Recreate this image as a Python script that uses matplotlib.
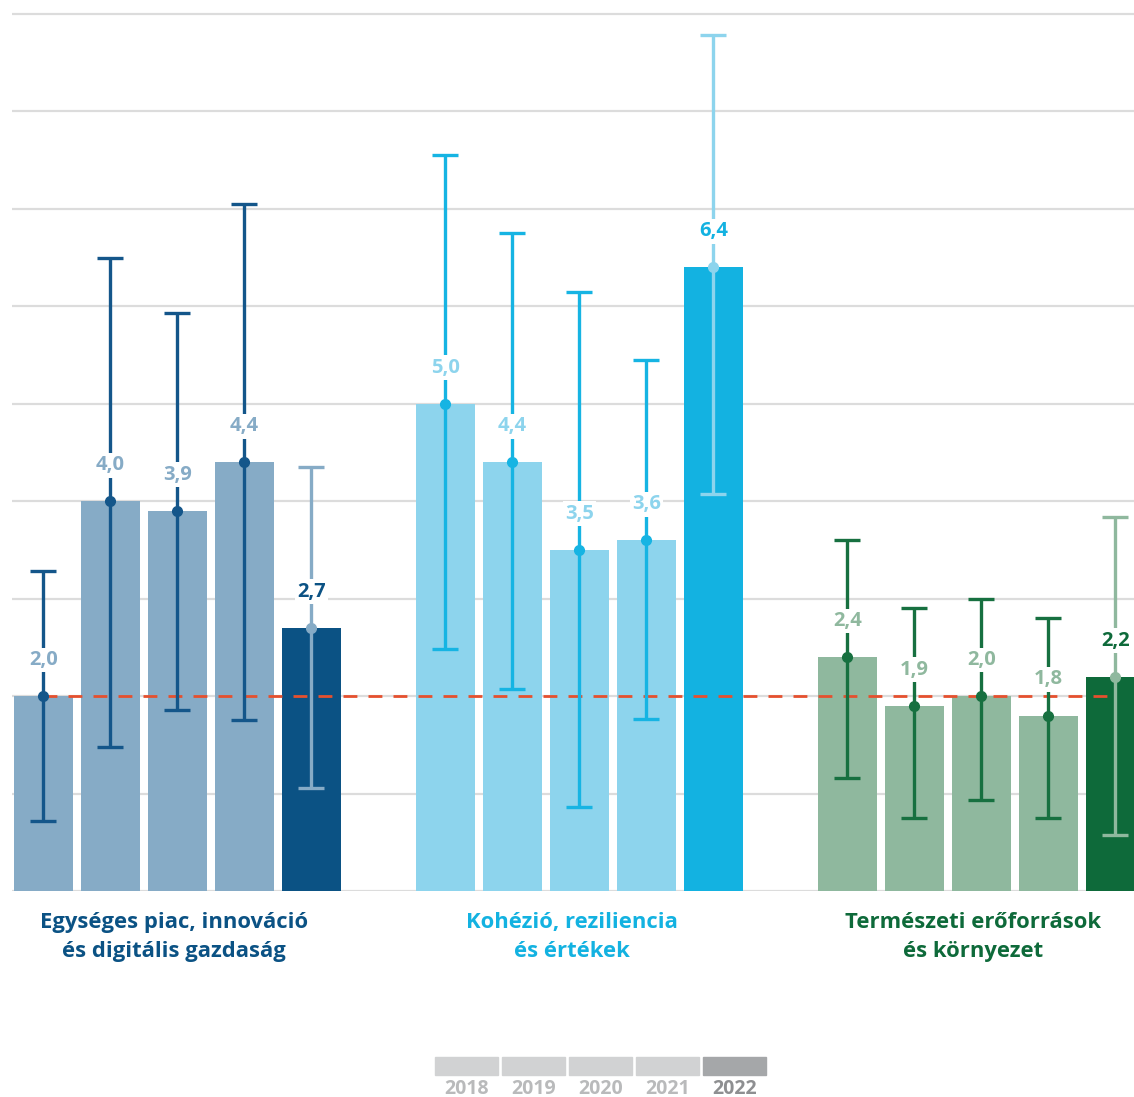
import matplotlib
matplotlib.use("Agg")
import matplotlib.pyplot as plt
from matplotlib.patches import Rectangle
import numpy as np

plt.rcParams['font.family'] = ['Open Sans', 'DejaVu Sans']

years = ["2018", "2019", "2020", "2021", "2022"]
groups = ["Egységes piac, innováció\nés digitális gazdaság",
          "Kohézió, reziliencia\nés értékek",
          "Természeti erőforrások\nés környezet"]

values = [[2.0, 4.0, 3.9, 4.4, 2.7],
          [5.0, 4.4, 3.5, 3.6, 6.4],
          [2.4, 1.9, 2.0, 1.8, 2.2]]
upper = [[3.28, 6.50, 5.93, 7.05, 4.35],
         [7.55, 6.75, 6.15, 5.45, 8.78],
         [3.60, 2.90, 3.00, 2.80, 3.84]]
lower = [[0.72, 1.48, 1.86, 1.75, 1.06],
         [2.48, 2.07, 0.86, 1.77, 4.07],
         [1.16, 0.75, 0.93, 0.75, 0.57]]
reference = 2.0

light = ["#86abc6", "#8dd4ed", "#8fb89e"]
dark = ["#0b5284", "#13b2e1", "#0e6a3a"]
errc = ["#14568a", "#16b4e3", "#177040"]

fig = plt.figure(figsize=(11.34, 10.97), dpi=100)
W, H = 1134, 1097
ax = fig.add_axes([12 / W, (H - 891) / H, (1134 - 12) / W, (891 - 5) / H])
step = 67.0
x0 = -0.47
x1 = x0 + (1134 - 12) / step
ax.set_xlim(x0, x1)
ax.set_ylim(0, 9 + 9 / 876 * 9)

for g in range(10):
    ax.axhline(g, color="#dcdcdc", lw=1.6, zorder=0)

for gi in range(3):
    for i in range(5):
        pos = gi * 6 + i
        is_last = i == 4
        ax.bar(pos, values[gi][i], width=0.88,
               color=dark[gi] if is_last else light[gi], zorder=2)
        ecol = light[gi] if is_last else errc[gi]
        v = values[gi][i]
        ax.errorbar(pos, v, yerr=[[v - lower[gi][i]], [upper[gi][i] - v]],
                    fmt='o', color=ecol, ms=7, elinewidth=2.4, capsize=9.5,
                    capthick=2.4, zorder=4)
        ax.annotate(f"{v:.1f}".replace(".", ","), (pos, v),
                    xytext=(0, 26), textcoords="offset points",
                    ha="center", va="center", fontsize=14.5, fontweight="bold",
                    color=dark[gi] if is_last else light[gi],
                    bbox=dict(boxstyle="square,pad=0.12", fc="white", ec="none"),
                    zorder=5)

ax.plot([0, 16], [reference, reference], color="#e5502e", lw=2,
        dashes=(5, 4), zorder=3)

for s in ax.spines.values():
    s.set_visible(False)
ax.set_xticks([])
ax.set_yticks([])

centers_px = [174, 572, 973]
for gi in range(3):
    fig.text(centers_px[gi] / W, 1 - 937 / H, groups[gi], ha="center", va="center",
             fontsize=15.8, fontweight="bold", color=dark[gi],
             linespacing=1.45)

leg_left = [435, 502, 569, 636, 703]
for i, y in enumerate(years):
    col = "#a5a7a9" if i == 4 else "#d1d2d3"
    fig.patches.append(Rectangle((leg_left[i] / W, 1 - 1075 / H), 63 / W, 18 / H,
                                 transform=fig.transFigure, color=col))
    fig.text((leg_left[i] + 31.5) / W, 1 - 1089 / H, y, ha="center", va="center",
             fontsize=14, fontweight="bold",
             color="#8e8f91" if i == 4 else "#b9babb")

fig.savefig("out.png", dpi=100)
